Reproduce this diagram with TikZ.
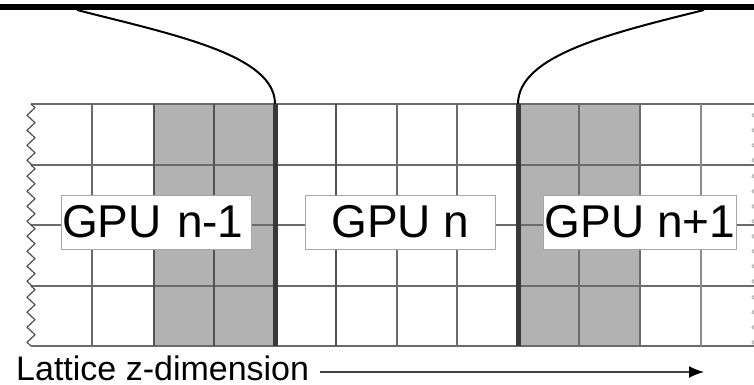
\documentclass[tikz,border=0pt]{standalone}
\usepackage{fontspec}
\setmainfont{Liberation Sans}
\usetikzlibrary{decorations.pathmorphing,arrows.meta}

\tikzset{
  gridline/.style={draw=black!58, line width=1.3pt},
  darkline/.style={draw=black!68, line width=2pt},
  faintline/.style={draw=black!45, line width=1.3pt},
  boundary/.style={draw=black!78, line width=5pt},
  gpubox/.style={draw=black!35, line width=1pt, fill=white, minimum width=190pt,
    minimum height=54pt, inner xsep=1pt, inner ysep=2pt,
    font=\fontsize{46}{50}\selectfont},
  link/.style={draw=black, line width=2pt},
  cut/.style={draw=black!70, line width=1.2pt, line join=round,
    decorate, decoration={zigzag, segment length=15pt, amplitude=4pt}},
}

\begin{document}
\begin{tikzpicture}[x=1pt, y=-1pt]
\useasboundingbox (0,0) rectangle (754,385);

% lattice geometry (column edges and row edges)
\def\xl{31} \def\xr{754}
\def\yt{104} \def\yb{346}

% ghost-zone columns
\fill[black!30] (154,\yt) rectangle (275,\yb);
\fill[black!30] (517,\yt) rectangle (640,\yb);

% horizontal lattice lines
\foreach \y in {104,165,225,286,346}
  \draw[gridline] (\xl,\y) -- (\xr,\y);

% vertical lattice lines
\foreach \x in {92,397,457,579,640}
  \draw[gridline] (\x,\yt) -- (\x,\yb);
\foreach \x in {154,214,336}
  \draw[darkline] (\x,\yt) -- (\x,\yb);
\draw[faintline] (701,\yt) -- (701,\yb);

% partition boundaries between GPUs
\draw[boundary] (275,\yt) -- (275,\yb);
\draw[boundary] (518,\yt) -- (518,\yb);

% cut edges of the lattice
\foreach \ya/\yz in {104/165,165/225,225/286,286/346}
  \draw[cut] (31,\ya) -- (31,\yz);
\begin{scope}
  \clip (748,100) rectangle (754,350);
  \foreach \ya/\yz in {104/165,165/225,225/286,286/346}
    \draw[cut, draw=black!30] (756,\ya) -- (756,\yz);
\end{scope}

% host bus and links down to the partition boundaries
\fill[black] (0,4) rectangle (754,10.5);
\coordinate (busL) at (77,10);
\coordinate (busR) at (704,10);
\coordinate (edgeL) at (275,104);
\coordinate (edgeR) at (518,104);
\draw[link] (busL) .. controls (175,35) and (275,55) .. (edgeL);
\draw[link] (busR) .. controls (612,33) and (518,55) .. (edgeR);

% GPU labels
\node[gpubox, text width=188pt, align=left] (gpuA) at (156,222) {GPU n-1};
\node[gpubox] (gpuB) at (400.5,222) {GPU n};
\node[gpubox] (gpuC) at (640,222) {GPU n+1};

% axis label and direction arrow
\node[anchor=base west, inner sep=0pt, font=\fontsize{34}{36}\selectfont]
  (axis) at (16,380) {Lattice z-dimension};
\coordinate (axisStart) at (320,372);
\coordinate (axisEnd) at (704,372);
\draw[black!75, line width=1.5pt,
  -{Latex[length=15pt, width=12pt, black]}]
  (axisStart) -- (axisEnd);
\end{tikzpicture}
\end{document}
